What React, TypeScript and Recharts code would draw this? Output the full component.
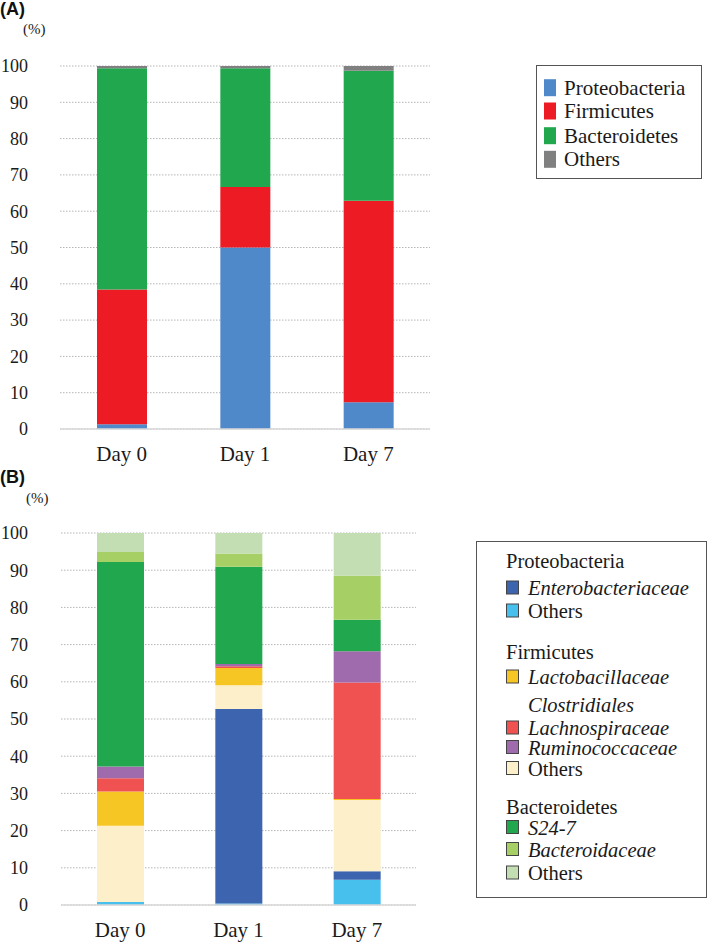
import React from 'react';
import { BarChart, Bar, XAxis, YAxis, CartesianGrid } from 'recharts';

const days = ['Day 0', 'Day 1', 'Day 7'];
const yTicks = [0, 10, 20, 30, 40, 50, 60, 70, 80, 90, 100];

// (A) phylum level, % of reads
const proteobacteria = [1.3, 50.0, 7.4];
const firmicutes = [37.1, 16.7, 55.5];
const bacteroidetes = [61.0, 32.7, 35.8];
const phylumOthers = [0.6, 0.6, 1.3];

// (B) family level, % of reads
const proteoOthers = [0.8, 0.4, 6.8];
const enterobacteriaceae = [0, 52.3, 2.3];
const firmicutesOthers = [20.5, 6.4, 19.1];
const lactobacillaceae = [9.2, 4.6, 0.3];
const lachnospiraceae = [3.6, 0.5, 31.3];
const ruminococcaceae = [3.1, 0.6, 8.4];
const s247 = [55.0, 26.1, 8.5];
const bacteroidaceae = [2.7, 3.6, 11.8];
const bacteroidetesOthers = [5.1, 5.5, 11.5];

const SERIF = "Liberation Serif, Times New Roman, Times, DejaVu Serif, serif";
const SANS = "Liberation Sans, Arial, sans-serif";

const seriesA = [
  { key: 'proteobacteria', name: 'Proteobacteria', values: proteobacteria, color: '#5089C9' },
  { key: 'firmicutes', name: 'Firmicutes', values: firmicutes, color: '#ED1C24' },
  { key: 'bacteroidetes', name: 'Bacteroidetes', values: bacteroidetes, color: '#21A84E' },
  { key: 'others', name: 'Others', values: phylumOthers, color: '#808080' },
];

const seriesB = [
  { key: 'proteoOthers', values: proteoOthers, color: '#48C0EE' },
  { key: 'entero', values: enterobacteriaceae, color: '#3D64AE' },
  { key: 'firmOthers', values: firmicutesOthers, color: '#FDEFCA' },
  { key: 'lacto', values: lactobacillaceae, color: '#F6C624' },
  { key: 'lachno', values: lachnospiraceae, color: '#F05252' },
  { key: 'rumino', values: ruminococcaceae, color: '#A06BAD' },
  { key: 's247', values: s247, color: '#21A84E' },
  { key: 'bacteroidaceae', values: bacteroidaceae, color: '#A6D065' },
  { key: 'bactOthers', values: bacteroidetesOthers, color: '#C4DEB3' },
];

const toRows = (series) =>
  days.map((day, i) => {
    const row = { day };
    series.forEach((s) => {
      row[s.key] = s.values[i];
    });
    return row;
  });

const dataA = toRows(seriesA);
const dataB = toRows(seriesB);

// legend of panel B: y is the text baseline, swatch colour when the row has one
const legendB = [
  { label: 'Proteobacteria', y: 568, head: true },
  { label: 'Enterobacteriaceae', y: 595, color: '#3D64AE', italic: true },
  { label: 'Others', y: 618, color: '#48C0EE' },
  { label: 'Firmicutes', y: 659, head: true },
  { label: 'Lactobacillaceae', y: 684, color: '#F6C624', italic: true },
  { label: 'Clostridiales', y: 711.5, italic: true },
  { label: 'Lachnospiraceae', y: 735, color: '#F05252', italic: true },
  { label: 'Ruminococcaceae', y: 754.5, color: '#A06BAD', italic: true },
  { label: 'Others', y: 775.5, color: '#FDEFCA' },
  { label: 'Bacteroidetes', y: 814, head: true },
  { label: 'S24-7', y: 834.5, color: '#21A84E', italic: true },
  { label: 'Bacteroidaceae', y: 856.5, color: '#A6D065', italic: true },
  { label: 'Others', y: 880, color: '#C4DEB3' },
];

const yTickStyle = { fontSize: 18, fontFamily: SERIF, fill: '#1a1a1a' };
const xTickStyle = { fontSize: 21, fontFamily: SERIF, fill: '#1a1a1a' };

const StackPanel = ({ data, series, width, height, margin, yWidth, barSize }) => (
  <BarChart width={width} height={height} data={data} margin={margin} barSize={barSize}>
    <CartesianGrid vertical={false} stroke="#b5b5b5" strokeDasharray="1.5 1.5" />
    <XAxis
      dataKey="day"
      height={40}
      tickLine={false}
      tickSize={0}
      tickMargin={17}
      axisLine={{ stroke: '#d9d9d9', strokeWidth: 1.5 }}
      tick={xTickStyle}
    />
    <YAxis
      width={yWidth}
      domain={[0, 100]}
      ticks={yTicks}
      interval={0}
      axisLine={false}
      tickLine={false}
      tickSize={0}
      tickMargin={yWidth - 28}
      tick={yTickStyle}
    />
    {series.map((s) => (
      <Bar key={s.key} dataKey={s.key} stackId="a" fill={s.color} isAnimationActive={false} />
    ))}
  </BarChart>
);

const App = () => {
  return (
    <div style={{ position: 'absolute', left: 0, top: 0, width: 709, height: 946, background: '#fff' }}>
      <div style={{ position: 'absolute', left: 0, top: 0 }}>
        <StackPanel
          data={dataA}
          series={seriesA}
          width={440}
          height={470}
          margin={{ top: 66, right: 10, bottom: 1, left: 0 }}
          yWidth={60}
          barSize={50}
        />
      </div>
      <div style={{ position: 'absolute', left: 0, top: 470 }}>
        <StackPanel
          data={dataB}
          series={seriesB}
          width={426}
          height={476}
          margin={{ top: 63, right: 10, bottom: 1, left: 0 }}
          yWidth={61}
          barSize={47}
        />
      </div>

      <svg width={709} height={946} style={{ position: 'absolute', left: 0, top: 0, pointerEvents: 'none' }}>
        <text x={0} y={14.5} fontFamily={SANS} fontWeight="bold" fontSize={18} fill="#111">(A)</text>
        <text x={0} y={483} fontFamily={SANS} fontWeight="bold" fontSize={18} fill="#111">(B)</text>
        <text x={23} y={34} fontFamily={SERIF} fontSize={15} fill="#1a1a1a">(%)</text>
        <text x={26} y={503} fontFamily={SERIF} fontSize={15} fill="#1a1a1a">(%)</text>

        {/* legend A */}
        <rect x={536.5} y={65.5} width={165} height={113} fill="#fff" stroke="#555" strokeWidth={1} />
        {seriesA.map((s, i) => {
          const cy = [87.7, 111, 135.7, 159.3][i];
          return (
            <g key={s.key}>
              <rect x={544} y={cy - 8.5} width={12} height={17} fill={s.color} />
              <text x={564} y={cy + 7} fontFamily={SERIF} fontSize={21} fill="#1a1a1a">{s.name}</text>
            </g>
          );
        })}

        {/* legend B */}
        <rect x={476.5} y={541.5} width={230} height={356} fill="#fff" stroke="#555" strokeWidth={1} />
        {legendB.map((r, i) => (
          <g key={i}>
            {r.color && (
              <rect x={506.5} y={r.y - 14} width={12} height={13} fill={r.color} stroke="#444" strokeWidth={1} />
            )}
            <text
              x={r.head ? 506 : 528}
              y={r.y}
              fontFamily={SERIF}
              fontSize={20.5}
              fontStyle={r.italic ? 'italic' : 'normal'}
              fill="#1a1a1a"
            >
              {r.label}
            </text>
          </g>
        ))}
      </svg>
    </div>
  );
};

export default App;
